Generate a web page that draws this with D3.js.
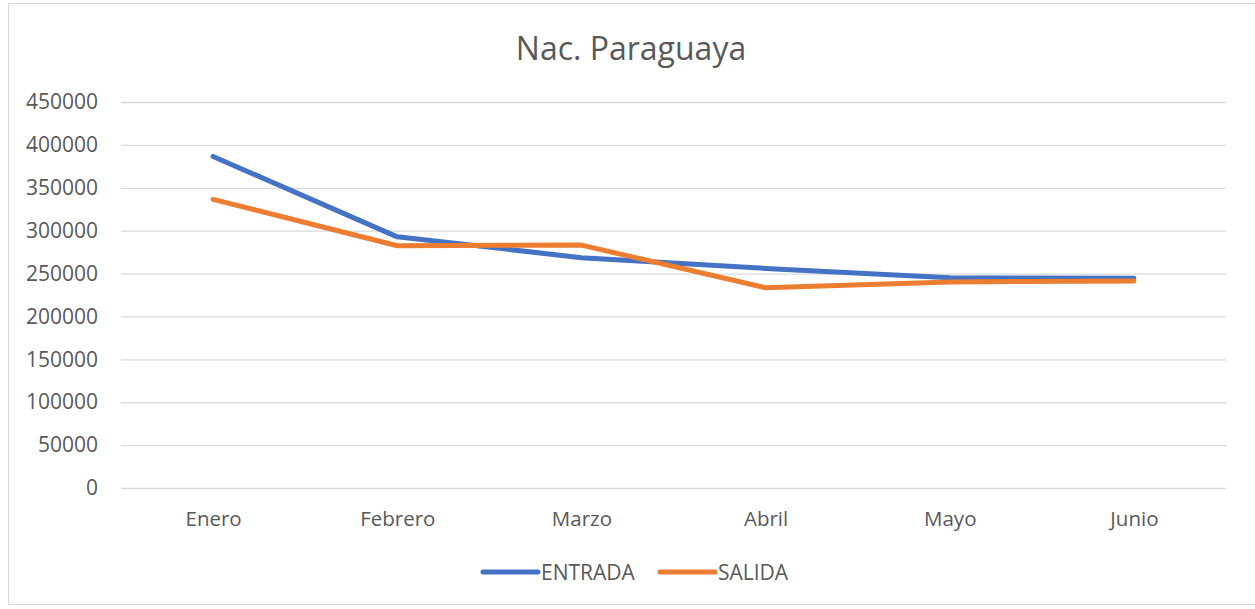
<!DOCTYPE html>
<html><head><meta charset="utf-8">
<script src="https://cdn.jsdelivr.net/npm/d3@7"></script>
<style>body{margin:0;background:#fff;}svg{display:block;}text{font-family:"Open Sans",sans-serif;fill:#595959;}</style>
</head><body>
<svg id="c" width="1255" height="609"></svg>
<script>
const months = ["Enero","Febrero","Marzo","Abril","Mayo","Junio"];
const entrada = [386500, 292800, 268500, 256000, 245000, 244500];
const salida = [336500, 282400, 283200, 233500, 240200, 241300];
const yTicks = [0,50000,100000,150000,200000,250000,300000,350000,400000,450000];
const seriesNames = ["ENTRADA","SALIDA"];
const colors = ["#4472C4","#ED7D31"];

const svg = d3.select("#c");
svg.append("rect").attr("x",8.5).attr("y",3.5).attr("width",1250).attr("height",601)
  .attr("fill","#fff").attr("stroke","#d9d9d9").attr("stroke-width",1);

const pLeft=121, pRight=1226, pTop=102, pBottom=488;
const x = d3.scalePoint().domain(months).range([pLeft,pRight]).padding(0.5);
const y = d3.scaleLinear().domain([0,450000]).range([pBottom,pTop]);

svg.append("text").attr("x",631).attr("y",60).attr("text-anchor","middle")
  .style("font-size","32px").style("font-weight","400").text("Nac. Paraguaya");

const ga = svg.append("g").attr("transform",`translate(${pLeft},0)`)
  .call(d3.axisLeft(y).tickValues(yTicks).tickSize(-(pRight-pLeft)).tickPadding(23).tickFormat(d3.format("d")));
ga.select(".domain").remove();
ga.selectAll(".tick line").attr("stroke","#d9d9d9").attr("stroke-width",1.3);
ga.selectAll(".tick text").style("font-size","21px").attr("fill","#595959").style("font-family","'Open Sans',sans-serif");

const gx = svg.append("g").attr("transform",`translate(0,${pBottom})`)
  .call(d3.axisBottom(x).tickSize(0).tickPadding(23));
gx.select(".domain").remove();
gx.selectAll(".tick text").style("font-size","20.5px").attr("fill","#595959").style("font-family","'Open Sans',sans-serif");

const line = d3.line().x((d,i)=>x(months[i])).y(d=>y(d));
[entrada,salida].forEach((s,i)=>{
  svg.append("path").datum(s).attr("d",line).attr("fill","none")
    .attr("stroke",colors[i]).attr("stroke-width",5).attr("stroke-linecap","round").attr("stroke-linejoin","round");
});

const legX=[483,660];
seriesNames.forEach((n,i)=>{
  const g=svg.append("g");
  g.append("line").attr("x1",legX[i]).attr("x2",legX[i]+55).attr("y1",572).attr("y2",572)
    .attr("stroke",colors[i]).attr("stroke-width",5).attr("stroke-linecap","round");
  g.append("text").attr("x",legX[i]+58).attr("y",580).style("font-size","21px").text(n);
});
</script>
</body></html>
